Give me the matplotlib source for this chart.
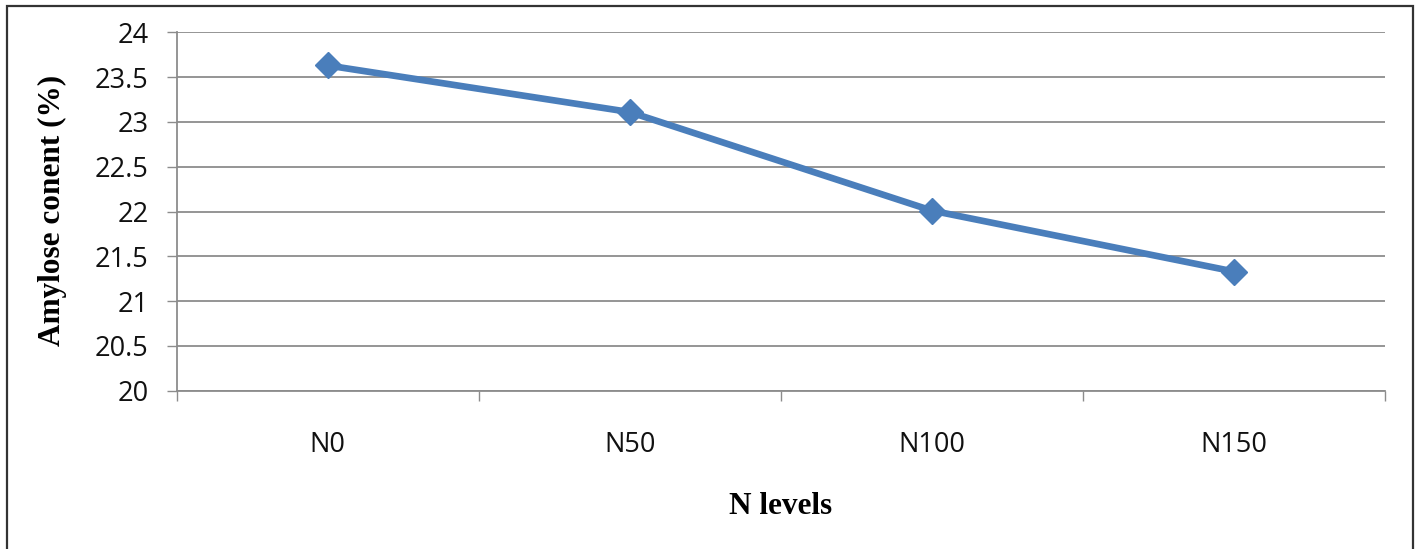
import matplotlib.pyplot as plt
from matplotlib.patches import Rectangle
from matplotlib.ticker import FixedLocator

# Amylose content at each nitrogen level
levels = ["N0", "N50", "N100", "N150"]
amylose = [23.63, 23.11, 22.01, 21.33]
yticks = [20, 20.5, 21, 21.5, 22, 22.5, 23, 23.5, 24]
ytick_labels = ["20", "20.5", "21", "21.5", "22", "22.5", "23", "23.5", "24"]

line_color = "#4a7ebb"
grid_color = "#8c8c8c"

fig = plt.figure(figsize=(14.22, 5.49), dpi=100)
ax = fig.add_axes([176.5 / 1422, 1 - 390.7 / 549, (1385 - 176.5) / 1422, (390.7 - 32.3) / 549])

x = list(range(len(levels)))
ax.plot(x, amylose, color=line_color, lw=4.8, marker="D", ms=13.5,
        markeredgecolor=line_color, markerfacecolor=line_color,
        solid_joinstyle="miter", zorder=3, clip_on=False)

ax.set_xlim(-0.5, len(levels) - 0.5)
ax.set_ylim(20, 24)

# y axis
ax.set_yticks(yticks)
ax.set_yticklabels(ytick_labels, fontfamily="Open Sans", fontsize=19.5, color="#111111")
ax.tick_params(axis="y", length=7.2, width=1, color=grid_color, pad=13)
ax.grid(axis="y", color=grid_color, lw=1.3)
ax.set_axisbelow(True)

# x axis: labels at category centres, tick marks at category boundaries
ax.set_xticks(x)
ax.set_xticklabels(levels, fontfamily="Open Sans", fontsize=19.5, color="#111111")
ax.tick_params(axis="x", which="major", length=0, pad=29)
ax.xaxis.set_minor_locator(FixedLocator([i - 0.5 for i in range(len(levels) + 1)]))
ax.tick_params(axis="x", which="minor", length=7.2, width=1, color=grid_color)

for side in ["top", "right"]:
    ax.spines[side].set_visible(False)
for side in ["left", "bottom"]:
    ax.spines[side].set_color(grid_color)
    ax.spines[side].set_linewidth(1.3)

ax.set_ylabel("Amylose conent (%)", fontfamily="Liberation Serif", fontweight="bold",
              fontsize=22.5, va="center")
ax.yaxis.set_label_coords((52 - 176.5) / 1208.5, (390.7 - 210) / 358.4)
ax.set_xlabel("N levels", fontfamily="Liberation Serif", fontweight="bold",
              fontsize=22.5, va="center")
ax.xaxis.set_label_coords(0.5, (390.7 - 507) / 358.4)

# frame around the whole chart
fig.patches.append(Rectangle((6.5 / 1422, -0.05), (1412.7 - 6.5) / 1422, 1.05 - 6 / 549,
                             transform=fig.transFigure, fill=False,
                             edgecolor="#333333", lw=1.6))

fig.savefig("out.png", dpi=100)
